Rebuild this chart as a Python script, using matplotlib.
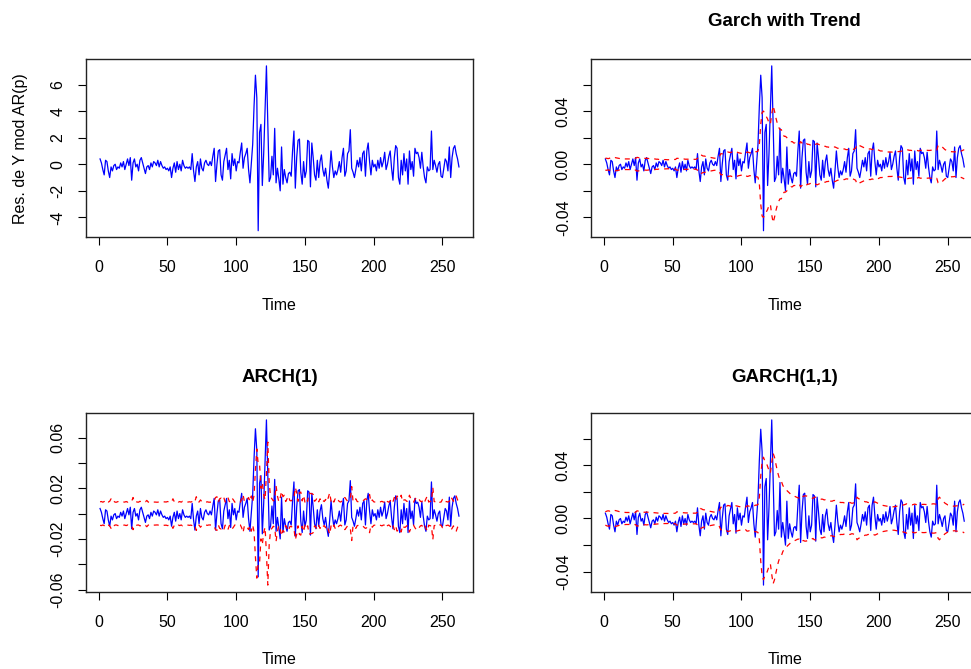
import numpy as np
import matplotlib
matplotlib.use('agg')
import matplotlib.pyplot as plt

plt.rcParams['font.family'] = ['Liberation Sans', 'DejaVu Sans']
plt.rcParams['axes.unicode_minus'] = False

# residuals of the AR(p) model for Y (percent units)
resid = [0.4, 0.1, -0.4, -0.8, 0.3, 0.2, -0.5, -1.0, -0.2, -0.5,
         -0.1, 0.0, -0.4, -0.2, -0.3, 0.1, -0.2, 0.2, -0.4, 0.0,
         0.4, -0.1, 0.5, -1.2, 0.1, 0.4, -0.2, 0.0, -0.5, 0.3,
         0.5, 0.1, -0.3, -0.7, -0.2, -0.1, -0.4, 0.1, -0.2, 0.2,
         0.1, -0.1, 0.3, -0.2, 0.2, -0.1, -0.3, -0.2, -0.4, -0.3,
         -0.5, -0.2, -1.0, -0.3, 0.1, -0.6, 0.2, -0.4, 0.0, -0.5,
         0.3, -0.1, -0.3, -0.2, -0.3, -0.2, -0.4, 0.8, -0.5, -1.3,
         -0.2, 0.2, -0.8, 0.4, -0.3, -0.5, 0.1, 0.3, 0.0, -0.1,
         0.2, -0.1, 0.6, 1.2, -1.3, 0.0, 1.0, 1.1, -0.8, -1.2,
         0.2, 0.7, 1.2, -0.4, 0.3, -1.1, 0.8, -0.1, 0.4, -0.5,
         0.2, 0.1, 0.9, 1.6, -0.3, 0.5, 0.8, 1.2, -0.4, -1.4,
         0.1, 1.5, 4.4, 6.7, 5.0, -5.0, 2.4, 3.0, -1.6, 0.8,
         4.0, 7.4, 3.0, -1.3, -1.0, 0.6, -0.8, 2.7, -1.4, -0.3,
         -1.1, -2.0, 1.3, -1.5, -0.4, -1.0, -1.4, -0.7, -0.6, -0.9,
         1.0, 2.5, -1.8, 0.5, 1.8, 1.9, -0.6, -1.5, 0.2, -1.0,
         -0.5, 1.8, 1.7, -1.7, 1.6, 0.5, -0.8, -1.2, 0.3, -1.0,
         0.2, 0.7, -0.4, -0.9, -0.3, -1.2, -1.8, -0.5, 1.0, -0.2,
         -1.0, -0.5, -0.8, -0.4, 0.2, -0.6, 0.5, 1.2, -0.9, -0.5,
         0.8, 1.0, 2.6, -0.3, -0.6, -1.0, -0.4, 0.3, -0.2, 0.5,
         -0.5, 0.8, 1.0, -0.9, 1.0, 1.6, 0.2, -0.8, 0.3, -0.2,
         0.0, -0.5, 0.3, -0.3, 0.5, -0.2, 0.2, 0.9, -0.4, 0.0,
         0.6, 1.0, -0.3, -1.2, 0.5, 1.4, 1.2, -1.0, -1.5, 0.3,
         -0.8, 0.8, -0.5, 0.4, -1.5, 1.0, -0.4, 0.2, -0.9, 1.2,
         0.8, 0.9, 0.5, -0.3, 0.9, -0.2, -1.0, -1.4, -0.2, -0.5,
         -0.4, 2.5, -0.4, 0.3, -0.1, -0.6, 0.0, 0.2, -0.9, -1.0,
         -0.3, 0.4, 0.2, -0.5, 1.3, -1.0, 0.5, 1.2, 1.4, 0.8,
         0.4, -0.2]

# conditional band half-widths (percent units)
band_trend = [0.45, 0.45, 0.42, 0.45, 0.50, 0.48, 0.46, 0.50, 0.48, 0.46,
              0.44, 0.42, 0.42, 0.40, 0.40, 0.40, 0.40, 0.40, 0.40, 0.40,
              0.42, 0.42, 0.44, 0.52, 0.50, 0.48, 0.46, 0.45, 0.45, 0.44,
              0.45, 0.44, 0.42, 0.44, 0.42, 0.40, 0.40, 0.38, 0.38, 0.36,
              0.36, 0.35, 0.35, 0.35, 0.35, 0.34, 0.34, 0.34, 0.35, 0.35,
              0.36, 0.36, 0.45, 0.44, 0.42, 0.42, 0.40, 0.40, 0.38, 0.38,
              0.38, 0.38, 0.37, 0.37, 0.37, 0.37, 0.37, 0.45, 0.45, 0.70,
              0.68, 0.62, 0.62, 0.58, 0.56, 0.55, 0.52, 0.50, 0.48, 0.46,
              0.45, 0.44, 0.46, 0.60, 0.80, 0.78, 0.80, 0.85, 0.85, 0.92,
              0.90, 0.88, 0.92, 0.90, 0.86, 0.92, 0.90, 0.86, 0.84, 0.82,
              0.80, 0.78, 0.80, 0.92, 0.90, 0.86, 0.86, 0.90, 0.88, 0.95,
              0.94, 0.98, 1.5, 3.0, 3.9, 4.0, 3.8, 3.6, 3.4, 3.1,
              3.0, 3.8, 4.4, 4.0, 3.5, 3.1, 2.8, 2.6, 2.6, 2.3,
              2.1, 2.1, 2.0, 1.9, 1.8, 1.7, 1.7, 1.6, 1.6, 1.5,
              1.5, 1.5, 1.7, 1.6, 1.5, 1.6, 1.6, 1.5, 1.5, 1.45,
              1.4, 1.4, 1.5, 1.5, 1.55, 1.5, 1.45, 1.4, 1.4, 1.35,
              1.35, 1.3, 1.3, 1.25, 1.25, 1.25, 1.3, 1.3, 1.25, 1.2,
              1.2, 1.2, 1.2, 1.15, 1.15, 1.1, 1.1, 1.15, 1.15, 1.1,
              1.1, 1.15, 1.2, 1.5, 1.45, 1.4, 1.35, 1.3, 1.25, 1.2,
              1.2, 1.15, 1.15, 1.15, 1.1, 1.15, 1.2, 1.15, 1.1, 1.05,
              1.0, 1.0, 0.98, 0.96, 0.95, 0.94, 0.92, 0.92, 0.92, 0.90,
              0.90, 0.92, 0.95, 0.95, 0.96, 0.98, 1.0, 1.02, 1.05, 1.1,
              1.08, 1.05, 1.05, 1.03, 1.05, 1.08, 1.05, 1.03, 1.0, 1.05,
              1.05, 1.06, 1.06, 1.05, 1.05, 1.04, 1.04, 1.06, 1.1, 1.1,
              1.08, 1.06, 1.4, 1.45, 1.35, 1.3, 1.2, 1.1, 1.05, 1.0,
              0.98, 0.96, 0.94, 0.94, 0.92, 0.96, 0.96, 0.95, 0.98, 1.0,
              1.05, 1.1]

band_arch = [0.93, 0.95, 0.90, 0.95, 1.08, 0.93, 0.91, 0.97, 1.17, 0.91,
             0.97, 0.90, 0.90, 0.95, 0.91, 0.93, 0.90, 0.91, 0.91, 0.95,
             0.90, 0.95, 0.90, 0.97, 1.27, 0.90, 0.95, 0.91, 0.90, 0.97,
             0.93, 0.97, 0.90, 0.93, 1.04, 0.91, 0.90, 0.95, 0.90, 0.91,
             0.91, 0.90, 0.90, 0.93, 0.91, 0.91, 0.90, 0.93, 0.91, 0.95,
             0.93, 0.97, 0.91, 1.17, 0.93, 0.90, 1.00, 0.91, 0.95, 0.90,
             0.97, 0.93, 0.90, 0.93, 0.91, 0.93, 0.91, 0.95, 1.08, 0.97,
             1.33, 0.91, 0.91, 1.08, 0.95, 0.93, 0.97, 0.90, 0.93, 0.90,
             0.90, 0.91, 0.90, 1.00, 1.27, 1.33, 0.90, 1.17, 1.22, 1.08,
             1.27, 0.91, 1.04, 1.27, 0.95, 0.93, 1.22, 1.08, 0.90, 0.95,
             0.97, 0.91, 0.90, 1.12, 1.51, 0.93, 0.97, 1.08, 1.27, 0.95,
             1.39, 0.90, 1.45, 3.45, 5.1, 3.9, 3.9, 2.0, 2.45, 1.51,
             1.08, 3.15, 5.65, 2.45, 1.33, 1.17, 1.00, 1.08, 2.2, 1.39,
             0.93, 1.22, 1.77, 1.33, 1.45, 0.95, 1.17, 1.39, 1.04, 1.00,
             1.12, 1.17, 2.07, 1.64, 0.97, 1.64, 1.70, 1.00, 1.45, 0.91,
             1.17, 0.97, 1.64, 1.58, 1.58, 1.51, 0.97, 1.08, 1.27, 0.93,
             1.17, 0.91, 1.04, 0.95, 1.12, 0.93, 1.27, 1.64, 0.97, 1.17,
             0.91, 1.17, 0.97, 1.08, 0.95, 0.91, 1.00, 0.97, 1.27, 1.12,
             0.97, 1.08, 1.17, 2.13, 0.93, 1.00, 1.17, 0.95, 0.93, 0.91,
             0.97, 0.97, 1.08, 1.17, 1.12, 1.17, 1.51, 0.91, 1.08, 0.93,
             0.91, 0.90, 0.97, 0.93, 0.93, 0.97, 0.91, 0.91, 1.12, 0.95,
             0.90, 1.00, 1.17, 0.93, 1.27, 0.97, 1.39, 1.27, 1.17, 1.45,
             0.93, 1.08, 1.08, 0.97, 0.95, 1.45, 1.17, 0.95, 0.91, 1.12,
             1.27, 1.08, 1.12, 0.97, 0.93, 1.12, 0.91, 1.17, 1.39, 0.91,
             0.97, 0.95, 2.07, 0.95, 0.93, 0.90, 1.00, 0.90, 0.91, 1.12,
             1.17, 0.93, 0.95, 0.91, 0.97, 1.33, 1.17, 0.97, 1.27, 1.39,
             1.08, 0.95]

band_garch = [0.50, 0.55, 0.58, 0.55, 0.60, 0.58, 0.55, 0.60, 0.58, 0.55,
              0.52, 0.50, 0.48, 0.47, 0.46, 0.45, 0.45, 0.45, 0.44, 0.44,
              0.45, 0.45, 0.46, 0.58, 0.55, 0.52, 0.50, 0.48, 0.47, 0.47,
              0.48, 0.47, 0.46, 0.47, 0.45, 0.44, 0.43, 0.42, 0.41, 0.40,
              0.40, 0.39, 0.39, 0.38, 0.38, 0.38, 0.37, 0.37, 0.38, 0.38,
              0.39, 0.40, 0.50, 0.48, 0.46, 0.45, 0.44, 0.43, 0.42, 0.42,
              0.41, 0.41, 0.40, 0.40, 0.40, 0.40, 0.40, 0.48, 0.50, 0.75,
              0.72, 0.66, 0.65, 0.60, 0.58, 0.56, 0.54, 0.52, 0.50, 0.48,
              0.47, 0.46, 0.48, 0.62, 0.85, 0.82, 0.85, 0.90, 0.90, 0.98,
              0.96, 0.92, 0.96, 0.95, 0.90, 0.95, 0.93, 0.90, 0.88, 0.86,
              0.84, 0.82, 0.84, 0.95, 0.94, 0.90, 0.90, 0.94, 0.92, 1.0,
              1.0, 1.05, 1.6, 3.2, 4.3, 4.6, 4.3, 4.2, 3.9, 3.6,
              3.4, 4.2, 4.9, 4.6, 4.1, 3.6, 3.2, 2.9, 2.8, 2.5,
              2.3, 2.2, 2.1, 2.0, 1.9, 1.8, 1.75, 1.7, 1.65, 1.6,
              1.55, 1.55, 1.75, 1.7, 1.65, 1.7, 1.7, 1.65, 1.6, 1.6,
              1.55, 1.5, 1.6, 1.6, 1.6, 1.55, 1.5, 1.45, 1.45, 1.4,
              1.4, 1.35, 1.35, 1.3, 1.3, 1.3, 1.35, 1.35, 1.3, 1.25,
              1.25, 1.2, 1.2, 1.2, 1.15, 1.15, 1.15, 1.2, 1.2, 1.15,
              1.15, 1.2, 1.25, 1.6, 1.5, 1.45, 1.4, 1.35, 1.3, 1.25,
              1.25, 1.2, 1.2, 1.2, 1.15, 1.2, 1.25, 1.2, 1.15, 1.1,
              1.05, 1.0, 0.98, 0.96, 0.94, 0.92, 0.90, 0.90, 0.90, 0.88,
              0.88, 0.90, 0.92, 0.94, 0.95, 0.98, 1.0, 1.02, 1.05, 1.1,
              1.08, 1.05, 1.05, 1.02, 1.05, 1.08, 1.05, 1.02, 1.0, 1.05,
              1.05, 1.06, 1.06, 1.05, 1.05, 1.04, 1.04, 1.06, 1.1, 1.1,
              1.08, 1.06, 1.5, 1.6, 1.45, 1.35, 1.25, 1.15, 1.08, 1.02,
              1.0, 0.96, 0.94, 0.93, 0.92, 0.95, 0.95, 0.94, 0.96, 0.98,
              1.02, 1.08]

time = np.arange(1, len(resid) + 1)
ret = np.array(resid) / 100.0

W, H = 971, 669
FS = 11.5
fig = plt.figure(figsize=(W / 100, H / 100), dpi=100)

def px_axes(left, top, right, bottom):
    return fig.add_axes([left / W, 1 - bottom / H, (right - left) / W, (bottom - top) / H])

def style(ax, yticks, ylabels):
    ax.margins(x=0.04, y=0.04)
    ax.set_xticks([0, 50, 100, 150, 200, 250])
    ax.set_yticks(yticks)
    ax.set_yticklabels(ylabels)
    ax.tick_params(direction='out', length=5.5, width=0.8, labelsize=FS, pad=11, color='black')
    ax.tick_params(axis='y', labelrotation=90, pad=9)
    for lab in ax.get_yticklabels():
        lab.set_va('center')
    for s in ax.spines.values():
        s.set_linewidth(1.0)
        s.set_color('#222222')

def bands(ax, half):
    half = np.array(half) / 100.0
    ax.plot(time, half, color='red', lw=0.9, ls=(0, (4, 4)))
    ax.plot(time, -half, color='red', lw=0.9, ls=(0, (4, 4)))

box_w = 387.6
top_row = (59.3, 237.3)
bot_row = (413.3, 591.7)
left_x = 85.7
right_x = 591.0

# residuals of AR(p)
ax1 = px_axes(left_x, top_row[0], left_x + box_w, top_row[1])
ax1.plot(time, resid, color='blue', lw=0.9)
style(ax1, [-4, -2, 0, 2, 4, 6], ['-4', '-2', '0', '2', '4', '6'])
fig.text(20 / W, 1 - 148.3 / H, 'Res. de Y mod AR(p)', rotation=90, ha='center', va='center', fontsize=FS)

g_ticks = [-0.04, -0.02, 0.0, 0.02, 0.04, 0.06]
g_labels = ['-0.04', '', '0.00', '', '0.04', '']

ax2 = px_axes(right_x, top_row[0], right_x + box_w, top_row[1])
ax2.plot(time, ret, color='blue', lw=0.9)
bands(ax2, band_trend)
style(ax2, g_ticks, g_labels)

ax3 = px_axes(left_x, bot_row[0], left_x + box_w, bot_row[1])
ax3.plot(time, ret, color='blue', lw=0.9)
bands(ax3, band_arch)
style(ax3, [-0.06, -0.04, -0.02, 0.0, 0.02, 0.04, 0.06],
      ['-0.06', '', '-0.02', '', '0.02', '', '0.06'])

ax4 = px_axes(right_x, bot_row[0], right_x + box_w, bot_row[1])
ax4.plot(time, ret, color='blue', lw=0.9)
bands(ax4, band_garch)
style(ax4, g_ticks, g_labels)

# titles and axis labels
for cx, cy, txt in [(right_x + box_w / 2, 22, 'Garch with Trend'),
                    (left_x + box_w / 2, 377, 'ARCH(1)'),
                    (right_x + box_w / 2, 377, 'GARCH(1,1)')]:
    fig.text(cx / W, 1 - cy / H, txt, ha='center', va='center', fontsize=13.5, fontweight='bold')

for cx, cy in [(left_x + box_w / 2, 306), (right_x + box_w / 2, 306),
               (left_x + box_w / 2, 660), (right_x + box_w / 2, 660)]:
    fig.text(cx / W, 1 - cy / H, 'Time', ha='center', va='center', fontsize=FS)

fig.savefig('out.png', dpi=100)
